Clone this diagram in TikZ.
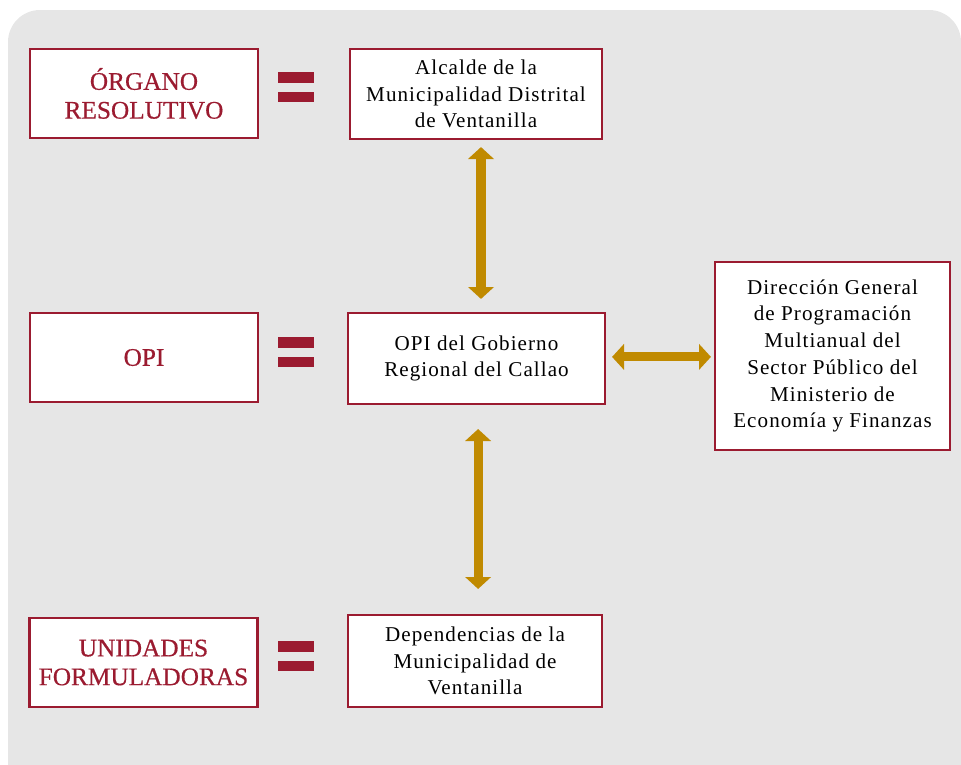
\documentclass[tikz,border=0pt]{standalone}
\usepackage{fontspec}
\setmainfont{Liberation Serif}
\newfontfamily\cajafont[LetterSpace=5]{Liberation Serif}
\newfontfamily\etiqfont[FakeBold=0.5]{Liberation Serif}
\usetikzlibrary{arrows.meta}
\definecolor{vino}{HTML}{9B1B30}
\definecolor{oro}{HTML}{C08A00}
\definecolor{fondo}{HTML}{E6E6E6}

\begin{document}
\begin{tikzpicture}[x=0.25mm,y=-0.25mm,
	etiq/.style={fill=white, draw=vino, line width=1.5pt, text=vino, align=center, inner sep=0pt, minimum width=57mm, minimum height=22.25mm, font=\etiqfont\fontsize{18}{20.5}\selectfont},
	caja/.style={fill=white, draw=vino, line width=1.5pt, align=center, inner sep=0pt, font=\cajafont\fontsize{15}{19}\selectfont},
	flecha/.style={draw=oro, line width=6.5pt, {Triangle[width=18pt,length=8.5pt]}-{Triangle[width=18pt,length=8.5pt]}}]
	\clip (0,0) rectangle (961,764);
	\fill[fondo, rounded corners=8mm] (8,10) rectangle (961,800);
	% columna izquierda
	\draw (144,93.5) node[etiq](lbl1) {ÓRGANO\\RESOLUTIVO};
	\draw (144,357.5) node[etiq](lbl2) {OPI};
	\draw (143.5,662.5) node[etiq](lbl3) {UNIDADES\\FORMULADORAS};
	% signos igual
	\foreach \y in {87,352,656} {
		\fill[vino] (278,\y-15) rectangle (314,\y-4.5);
		\fill[vino] (278,\y+4.5) rectangle (314,\y+15);
	}
	% columna central y derecha
	\draw (476,94) node[caja, minimum width=63mm, minimum height=22.5mm](box1) {Alcalde de la\\Municipalidad Distrital\\de Ventanilla};
	\draw (476.5,358.5) node[caja, minimum width=64.25mm, minimum height=22.75mm](box2) {OPI del Gobierno\\Regional del Callao};
	\draw (475,661) node[caja, minimum width=63.5mm, minimum height=23mm](box3) {Dependencias de la\\Municipalidad de\\Ventanilla};
	\draw (832.5,356) node[caja, minimum width=58.75mm, minimum height=47mm](box4) {Dirección General\\de Programación\\Multianual del\\Sector Público del\\Ministerio de\\Economía y Finanzas};
	% flechas
	\draw[flecha, shorten <=1.75mm, shorten >=3.25mm] ([xshift=1.25mm]box1.south) -- ([xshift=1.25mm]box1.south |- box2.north);
	\draw[flecha, shorten <=6mm, shorten >=6.25mm] ([xshift=0.4mm]box2.south) -- ([xshift=0.4mm]box2.south |- box3.north);
	\draw[flecha, shorten <=1.5mm, shorten >=0.75mm] ([yshift=0.4mm]box2.east) -- ([yshift=0.4mm]box2.east -| box4.west);
\end{tikzpicture}
\end{document}
